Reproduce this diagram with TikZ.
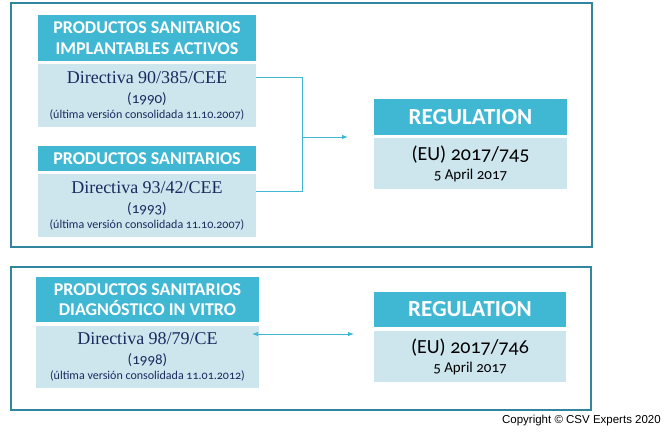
\documentclass[tikz,border=0pt]{standalone}
\usepackage{fontspec}
\setmainfont{Carlito}
\newfontfamily\osfont[Numbers=OldStyle]{Carlito}
\newfontfamily\dirfont{Liberation Serif}
\newfontfamily\copyfont{Liberation Sans}
\usetikzlibrary{arrows.meta}
\definecolor{hdrteal}{HTML}{41B8D3}
\definecolor{bodyblue}{HTML}{CDE6EE}
\definecolor{frameteal}{HTML}{31859C}
\definecolor{navy}{HTML}{1B2A5E}
\tikzset{
  hdr/.style = {fill=hdrteal, text=white, font=\bfseries\fontsize{18}{20.5}\selectfont, align=center, inner sep=0pt, minimum width=218pt},
  dirbody/.style = {fill=bodyblue, text=navy, align=center, inner sep=0pt, minimum width=218pt, minimum height=63pt, font=\fontsize{12}{20}\selectfont},
  reghdr/.style = {fill=hdrteal, text=white, font=\bfseries\fontsize{23}{25}\selectfont, inner sep=0pt, minimum width=193pt, minimum height=36pt},
  regbody/.style = {fill=bodyblue, text=black, align=center, inner sep=0pt, minimum width=193pt, minimum height=51pt, font=\fontsize{14}{19}\selectfont},
  frame/.style = {draw=frameteal, line width=1.1pt},
  link/.style = {draw=hdrteal, line width=0.9pt},
  tip/.style = {-{Latex[length=6pt,width=4.5pt]}}
}
\newcommand{\dirtext}[3]{{\dirfont\fontsize{18}{20}\selectfont #1}\\{\osfont\fontsize{15}{20}\selectfont (#2)}\\[-5pt]{\osfont\fontsize{12}{20}\selectfont (última versión consolidada #3)}}
\newcommand{\regtext}[1]{{\osfont\fontsize{20}{19}\selectfont (EU) #1}\\{\osfont\fontsize{15}{19}\selectfont 5 April 2017}}
\begin{document}
\begin{tikzpicture}[x=1pt, y=-1pt]
\useasboundingbox (0,0) rectangle (666,431);
% outer frames
\draw[frame] (11,3) rectangle (592,247);
\draw[frame] (11,267) rectangle (591,410);
% directives
\node[hdr, minimum height=46pt] (h1) at (147,38) {PRODUCTOS SANITARIOS\\IMPLANTABLES ACTIVOS};
\node[dirbody] (b1) at (147,95.5) {\dirtext{Directiva 90/385/CEE}{1990}{11.10.2007}};
\node[hdr, minimum height=25pt] (h2) at (147,158.5) {PRODUCTOS SANITARIOS};
\node[dirbody] (b2) at (147,205.5) {\dirtext{Directiva 93/42/CEE}{1993}{11.10.2007}};
\node[hdr, minimum width=223pt, minimum height=45pt] (h3) at (147.5,299.5) {PRODUCTOS SANITARIOS\\DIAGNÓSTICO IN VITRO};
\node[dirbody, minimum width=223pt, minimum height=62pt] (b3) at (147.5,357) {\dirtext{Directiva 98/79/CE}{1998}{11.01.2012}};
% regulations
\node[reghdr] (r1h) at (470.5,117) {REGULATION};
\node[regbody] (r1b) at (470.5,163.5) {\regtext{2017/745}};
\node[reghdr, minimum width=192pt, minimum height=35pt] (r2h) at (470,309.5) {REGULATION};
\node[regbody, minimum width=192pt] (r2b) at (470,356.5) {\regtext{2017/746}};
% connectors
\coordinate (j) at (302,137);
\coordinate (a1) at (348,137);
\coordinate (a2l) at (252,334);
\coordinate (a2r) at (354,334);
\draw[link] ([yshift=-14pt]b1.north east) -| (j);
\draw[link] ([yshift=-18pt]b2.north east) -| (j);
\draw[link, tip] (j) -- (a1);
\draw[link, {Latex[length=6pt,width=4.5pt]}-{Latex[length=6pt,width=4.5pt]}] (a2l) -- (a2r);
% copyright
\node[anchor=east, font=\copyfont\fontsize{11.5}{13}\selectfont, inner sep=0pt] (copy) at (661,421) {Copyright © CSV Experts 2020};
\end{tikzpicture}
\end{document}
